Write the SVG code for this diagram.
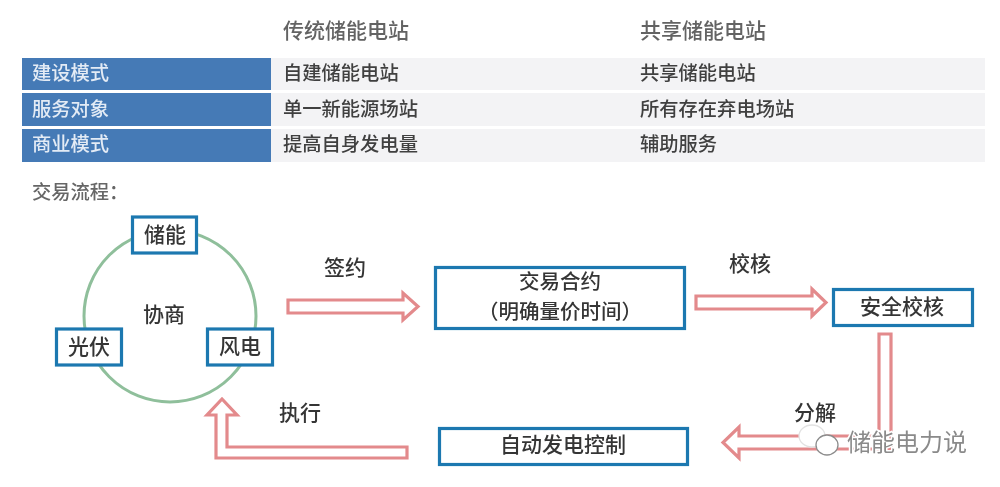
<svg xmlns="http://www.w3.org/2000/svg" width="1000" height="487" viewBox="0 0 1000 487">
<style>
text{font-family:"Noto Sans CJK SC","Liberation Sans",sans-serif;fill:#363636;font-weight:500;text-anchor:middle}
.h{font-size:21px;fill:#636363;text-anchor:start}
.c{font-size:19.300px;fill:#404040;text-anchor:start}
.b{font-size:19.300px;fill:#e3ebf5;text-anchor:start}
.n{font-size:21px}
.t{font-size:20.500px}
.box{fill:#fff;stroke:#1f78b0;stroke-width:3.2}
.arrow{fill:#fff;stroke:#e38a8c;stroke-width:3.200;stroke-linejoin:miter}
.blue{fill:#457ab6}
.grey{fill:#f3f3f5}
.wm{fill:#fff;stroke-width:1.3}
</style>
<defs><filter id="soft" x="-2%" y="-2%" width="104%" height="104%"><feGaussianBlur stdDeviation="0.5"/></filter></defs>
<rect width="1000" height="487" fill="#fff"/>
<g filter="url(#soft)">
<g id="table">
<rect class="grey" x="271" y="58" width="714" height="32"/>
<rect class="grey" x="271" y="93" width="714" height="33"/>
<rect class="grey" x="271" y="129" width="714" height="33"/>
<rect class="blue" x="22" y="58" width="249" height="32"/>
<rect class="blue" x="22" y="93" width="249" height="33"/>
<rect class="blue" x="22" y="129" width="249" height="33"/>
<text class="h" x="283" y="38">传统储能电站</text>
<text class="h" x="640" y="38">共享储能电站</text>
<text class="b" x="32" y="80">建设模式</text>
<text class="b" x="32" y="116">服务对象</text>
<text class="b" x="32" y="151">商业模式</text>
<text class="c" x="283" y="80">自建储能电站</text>
<text class="c" x="283" y="116">单一新能源场站</text>
<text class="c" x="283" y="151">提高自身发电量</text>
<text class="c" x="640" y="80">共享储能电站</text>
<text class="c" x="640" y="116">所有存在弃电场站</text>
<text class="c" x="640" y="151">辅助服务</text>
<text class="c" x="32" y="199" style="fill:#666">交易流程：</text>
</g>
<g id="connectors">
<circle cx="170" cy="316" r="86" fill="none" stroke="#8fbf9b" stroke-width="3"/>
<path class="arrow" d="M288 300H403V293L418 306.500L403 320V313H288Z"/>
<path class="arrow" d="M696 296H812V289L826 302.500L812 316V309H696Z"/>
<path class="arrow" d="M879 334H891V449H739V458L723 442.500L739 427V436H879Z"/>
<path class="arrow" d="M407 447V458H216V415H207L222 399L237 415H227V447Z"/>
</g>
<g id="n-storage"><rect class="box" x="132.500" y="217" width="64" height="36"/><text class="n" x="165" y="242">储能</text></g>
<g id="n-pv"><rect class="box" x="56.500" y="329" width="65" height="36"/><text class="n" x="89" y="354">光伏</text></g>
<g id="n-wind"><rect class="box" x="207.500" y="329" width="65" height="36"/><text class="n" x="240" y="354">风电</text></g>
<g id="n-negotiate"><text class="n" x="164" y="322">协商</text></g>
<g id="n-contract"><rect class="box" x="435.500" y="267.500" width="249" height="61"/><text class="t" x="560" y="288.500">交易合约</text><text class="t" x="560" y="318.500">（明确量价时间）</text></g>
<g id="n-check"><rect class="box" x="833.500" y="289.500" width="139" height="36"/><text class="n" x="902" y="314">安全校核</text></g>
<g id="n-agc"><rect class="box" x="439.500" y="428.500" width="248" height="36"/><text class="n" x="563" y="452">自动发电控制</text></g>
<g id="labels">
<text class="n" x="345" y="275">签约</text>
<text class="n" x="750" y="271">校核</text>
<text class="n" x="815" y="420">分解</text>
<text class="n" x="300" y="420">执行</text>
</g>
<g id="watermark">
<ellipse class="wm" cx="812" cy="436" rx="13" ry="11" stroke="#e2e2e2"/>
<ellipse class="wm" cx="827" cy="445" rx="11" ry="10" stroke="#8c8c8c"/>
<text x="907" y="451" style="font-size:24px;fill:#8a8a8a;stroke:#fff;stroke-width:3;paint-order:stroke;font-weight:400">储能电力说</text>
</g>
</g>
</svg>
